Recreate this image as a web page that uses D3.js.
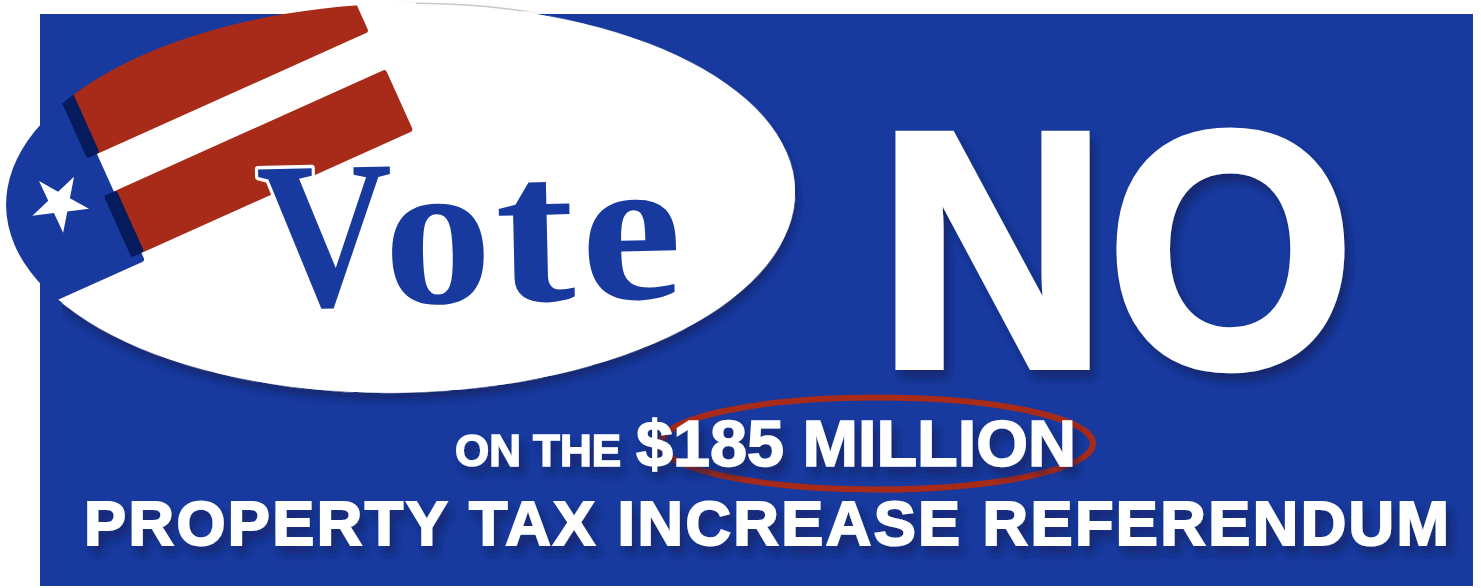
<!DOCTYPE html>
<html>
<head>
<meta charset="utf-8">
<script src="https://cdn.jsdelivr.net/npm/d3@7"></script>
<style>
  html, body { margin: 0; padding: 0; background: #fff; overflow: hidden; }
  svg { display: block; }
</style>
</head>
<body>
<svg id="poster" width="1481" height="588"></svg>
<script>
const stripes = ['upper', 'lower'];
const headline = 'NO';
const badgeLetters = ['V', 'o', 't', 'e'];
const leadIn = 'ON THE';
const amount = '$185 MILLION';
const subject = 'PROPERTY TAX INCREASE REFERENDUM';

const blue = '#183a9f', red = '#a82a18', navy = '#061b5e';
const sans = '"Liberation Sans", Arial, sans-serif';
const serif = '"Liberation Serif", serif';

const svg = d3.select('#poster');
const defs = svg.append('defs');

function shadow(id, dx, dy, blur, opacity) {
  defs.append('filter').attr('id', id)
    .attr('x', '-20%').attr('y', '-30%').attr('width', '140%').attr('height', '170%')
    .append('feDropShadow')
    .attr('dx', dx).attr('dy', dy).attr('stdDeviation', blur)
    .attr('flood-color', '#0a1a55').attr('flood-opacity', opacity);
}
shadow('textShadow', 5, 8, 5, 0.65);
shadow('badgeShadow', 2, 7, 5, 0.65);

// background panel
svg.append('rect').attr('x', 40).attr('y', 14).attr('width', 1433).attr('height', 572).attr('fill', blue);

// oval sticker
const oval = { cx: 401, cy: 198.5, rx: 395, ry: 195, tilt: -1.2 };
const ovalTransform = `rotate(${oval.tilt} ${oval.cx} ${oval.cy})`;
const addOval = (sel, inset = 0) => sel.append('ellipse')
  .attr('cx', oval.cx).attr('cy', oval.cy).attr('rx', oval.rx - inset).attr('ry', oval.ry - inset)
  .attr('transform', ovalTransform);

addOval(defs.append('clipPath').attr('id', 'ovalClip'));
defs.append('clipPath').attr('id', 'aboveClip').append('rect')
  .attr('x', 420).attr('y', 0).attr('width', 200).attr('height', 14);
// the shadow only falls below the line through the flag's lower corner
defs.append('clipPath').attr('id', 'shadowClip').append('path')
  .attr('d', 'M62,300L400,0H1481V588H62Z');

svg.append('g').attr('clip-path', 'url(#shadowClip)')
  .call(g => addOval(g, 1).attr('fill', '#fff').attr('filter', 'url(#badgeShadow)'));
addOval(svg, 1).attr('fill', '#fff');
addOval(svg).attr('fill', 'none').attr('stroke', '#c9c9c9').attr('stroke-width', 1.5)
  .attr('clip-path', 'url(#aboveClip)');

// flag, drawn in a frame turned along the stripes
const flagClip = svg.append('g').attr('clip-path', 'url(#ovalClip)');
const flag = flagClip.append('g').attr('transform', 'translate(97,154) rotate(-24.2)');
const bandV = d3.scaleBand().domain(stripes).range([-67.5, 108.5]).paddingInner(0.378);
// upper stripe runs past the oval so its top edge is the oval's own edge
const overhang = d => d === 'upper' ? 40 : 0;

flag.append('rect').attr('x', -220).attr('y', -120).attr('width', 220).attr('height', 237)
  .attr('rx', 3).attr('fill', blue);

flag.selectAll('rect.stripe').data(stripes).join('rect')
  .attr('class', 'stripe')
  .attr('x', 0).attr('y', d => bandV(d) - overhang(d))
  .attr('width', 298).attr('height', d => bandV.bandwidth() + overhang(d))
  .attr('rx', 3).attr('fill', red);

flag.selectAll('rect.end').data(stripes).join('rect')
  .attr('class', 'end')
  .attr('x', -11).attr('y', d => bandV(d) - overhang(d))
  .attr('width', 14).attr('height', d => bandV.bandwidth() + overhang(d))
  .attr('rx', 3).attr('fill', navy);

svg.append('path')
  .attr('d', d3.symbol(d3.symbolStar, 1010))
  .attr('transform', 'translate(59.5,203) rotate(29)')
  .attr('fill', '#fff');

// "Vote" is placed letter by letter, the source face is wider than ours
const letterX = [259, 385, 497, 582];
const letterWidth = [136, 108, 79, 101];
const vote = svg.append('g').attr('transform', 'rotate(-1.3 258 307)');
vote.selectAll('text').data(badgeLetters).join('text')
  .attr('x', (d, i) => letterX[i])
  .attr('y', 307)
  .attr('font-family', serif).attr('font-weight', 700).attr('font-size', 210)
  .attr('textLength', (d, i) => letterWidth[i]).attr('lengthAdjust', 'spacingAndGlyphs')
  .attr('fill', blue)
  .attr('stroke', '#fff').attr('stroke-width', 7)
  .attr('paint-order', 'stroke').attr('stroke-linejoin', 'round')
  .text(d => d);

function label(text, x, y, size, width, weight, adjust = 'spacingAndGlyphs') {
  return svg.append('text')
    .attr('x', x).attr('y', y)
    .attr('font-family', sans).attr('font-weight', 700).attr('font-size', size)
    .attr('textLength', width).attr('lengthAdjust', adjust)
    .attr('fill', '#fff')
    .attr('stroke', '#fff').attr('stroke-width', weight).attr('stroke-linejoin', 'miter')
    .attr('filter', 'url(#textShadow)')
    .text(text);
}

label(headline, 878, 366, 336, 476, 8);

// ring round the amount, under the words
svg.append('ellipse')
  .attr('cx', 877).attr('cy', 443.5).attr('rx', 216).attr('ry', 46)
  .attr('fill', 'none').attr('stroke', red).attr('stroke-width', 6);

label(leadIn, 455, 465.5, 44, 166, 1.5);
label(amount, 636, 466, 65, 440, 1.5);
label(subject, 84, 545, 63, 1365, 2, 'spacing');
</script>
</body>
</html>
